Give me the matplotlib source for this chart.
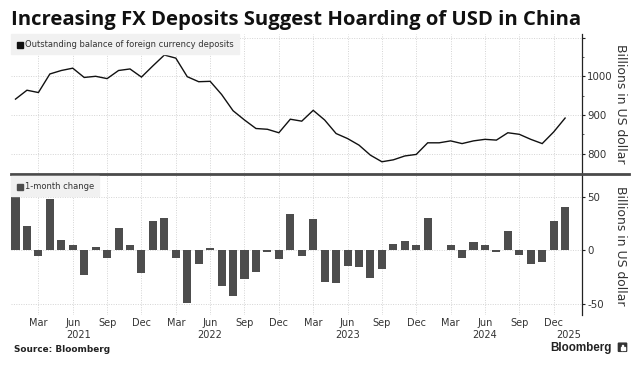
import matplotlib
matplotlib.use("Agg")
import matplotlib.pyplot as plt
from matplotlib.patches import Rectangle, FancyBboxPatch
from matplotlib.ticker import FixedLocator

W, H = 638, 367

balance = [941, 964, 958, 1006, 1015, 1021, 997, 1000, 994, 1015, 1019, 998,
           1027, 1055, 1047, 999, 986, 987, 953, 911, 887, 865, 863, 854,
           889, 884, 912, 887, 852, 839, 822, 796, 779, 784, 794, 798,
           828, 828, 833, 826, 833, 837, 835, 854, 850, 837, 826, 856, 892]
change = [50, 23, -5, 48, 9.5, 5, -23, 3.5, -7, 21, 4.5, -21,
          27.5, 30, -7.5, -49, -13, 2, -33, -43, -26.5, -20.5, -2, -8,
          34, -5, 29, -30, -30.5, -14.5, -15.5, -26, -17, 5.5, 9, 5,
          30, 0.5, 5, -7.5, 7.5, 4.5, -2, 18, -4, -12.5, -10.5, 27, 40]
month_ticks = [2, 5, 8, 11, 14, 17, 20, 23, 26, 29, 32, 35, 38, 41, 44, 47]
month_labels = ["Mar", "Jun", "Sep", "Dec"] * 4
year_pos = [5.5, 17, 29, 41, 48.3]
year_labels = ["2021", "2022", "2023", "2024", "2025"]
top_ticks = [800, 900, 1000, 1100]
top_labels = ["800", "900", "1000", ""]
bottom_ticks = [-50, 0, 50]
bottom_labels = ["-50", "0", "50"]

plt.rcParams["font.family"] = "DejaVu Sans"
fig = plt.figure(figsize=(W / 100, H / 100), dpi=100, facecolor="white")

def box(l, t, r, b):
    return [l / W, 1 - b / H, (r - l) / W, (b - t) / H]

def y2f(y):
    return 1 - y / H

PX = 11.45
xlim = ((11 - 15.5) / PX, (581.7 - 15.5) / PX)
TXT = "#333333"
GRID = dict(color="#d4d4d4", lw=0.7, ls=(0, (1, 1.5)))

ax1 = fig.add_axes(box(11, 34, 581.7, 173))
ax2 = fig.add_axes(box(11, 175, 581.7, 315))

for ax in (ax1, ax2):
    ax.set_xlim(*xlim)
    for s in ("left", "top", "bottom"):
        ax.spines[s].set_visible(False)
    ax.spines["right"].set_color("#222222")
    ax.spines["right"].set_linewidth(0.9)
    ax.yaxis.tick_right()
    ax.set_xticks(month_ticks)
    ax.grid(True, **GRID)
    ax.set_axisbelow(True)
    ax.tick_params(axis="y", length=2.5, width=0.8, color="#222222", labelcolor=TXT,
                   labelsize=7.4, pad=1.5)

ax1.set_ylim(1000 - (173 - 76.3) / 0.3867, 1000 + (76.3 - 34) / 0.3867)
ax1.set_yticks(top_ticks, top_labels)
ax1.yaxis.set_minor_locator(FixedLocator([850, 950, 1050]))
ax1.tick_params(axis="y", which="minor", length=1.5, width=0.6, color="#444444")
ax1.tick_params(axis="x", length=0, labelbottom=False)
ax1.plot(range(len(balance)), balance, color="#111111", lw=1.0, solid_joinstyle="miter")

ax2.set_ylim(0 - (315 - 250.3) / 1.072, 0 + (250.3 - 175) / 1.072)
ax2.set_yticks(bottom_ticks, bottom_labels)
ax2.bar(range(len(change)), change, width=0.7, color="#4d4d4d", zorder=3)
ax2.set_xticklabels(month_labels)
ax2.tick_params(axis="x", length=0, labelsize=7, labelcolor=TXT, pad=2.5)

for pos, lab in zip(year_pos, year_labels):
    fig.text((15.5 + pos * PX) / W, y2f(335), lab, ha="center", va="center",
             fontsize=7, color=TXT)

for yc in (104, 246):
    fig.text(620.7 / W, y2f(yc), "Billions in US dollar",
             rotation=270, ha="center", va="center", fontsize=8.9, color=TXT)

fig.add_artist(plt.Line2D([11 / W, 629 / W], [y2f(174)] * 2, color="#4a4a4a", lw=2.0))

fig.add_artist(Rectangle((11 / W, y2f(54)), 228 / W, 20 / H, transform=fig.transFigure,
                         color="#f1f1f1", zorder=2))
fig.add_artist(Rectangle((16.5 / W, y2f(48)), 6.5 / W, 6.5 / H, transform=fig.transFigure,
                         color="#111111", zorder=3))
fig.text(25 / W, y2f(44.5), "Outstanding balance of foreign currency deposits",
         ha="left", va="center", fontsize=6.0, color=TXT, zorder=4)
fig.add_artist(Rectangle((11 / W, y2f(196)), 88 / W, 20 / H, transform=fig.transFigure,
                         color="#f1f1f1", zorder=2))
fig.add_artist(Rectangle((16.5 / W, y2f(190)), 6.5 / W, 6.5 / H, transform=fig.transFigure,
                         color="#4d4d4d", zorder=3))
fig.text(25 / W, y2f(186.5), "1-month change", ha="left", va="center",
         fontsize=6.0, color=TXT, zorder=4)

fig.text(11 / W, y2f(20.5), "Increasing FX Deposits Suggest Hoarding of USD in China",
         ha="left", va="center", fontsize=14.55, fontweight="bold", color="#111111",
         family="Open Sans")
fig.text(14 / W, y2f(349.5), "Source: Bloomberg", ha="left", va="center",
         fontsize=6.4, fontweight="bold", color="#222222")
fig.text(611.7 / W, y2f(347.7), "Bloomberg", ha="right", va="center",
         fontsize=8.4, fontweight="bold", color="#222222", family="Liberation Sans")
fig.add_artist(FancyBboxPatch((619 / W, y2f(351)), 7 / W, 7.5 / H, transform=fig.transFigure,
                              boxstyle="round,pad=0.001", color="#333333"))
for lx, lh in ((620.5, 2.5), (622.3, 4.5), (624.1, 3.0)):
    fig.add_artist(Rectangle((lx / W, y2f(349.5)), 1 / W, lh / H, transform=fig.transFigure,
                             color="white", zorder=5))

fig.savefig("out.png", dpi=100, facecolor="white")
